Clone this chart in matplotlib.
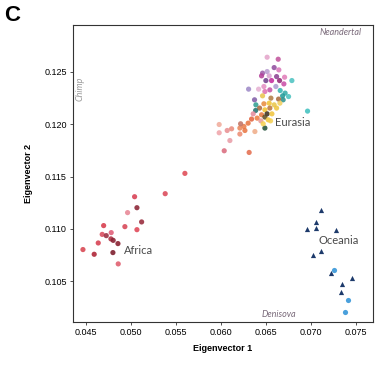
import matplotlib
matplotlib.use('Agg')
import matplotlib.pyplot as plt

# Eurasia samples (eigenvector 1, eigenvector 2, colour)
eur_x = [0.06514, 0.06637, 0.06592, 0.06644, 0.06463, 0.06514, 0.06452, 0.06537, 0.06619, 0.06708,
         0.06789, 0.06500, 0.06563, 0.06652, 0.06700, 0.06611, 0.06478, 0.06544, 0.06308, 0.06419,
         0.06489, 0.06659, 0.06714, 0.06686, 0.06752, 0.06692, 0.06463, 0.06556, 0.06641, 0.06374,
         0.06389, 0.06478, 0.06537, 0.06592, 0.06656, 0.06430, 0.06489, 0.06544, 0.06619, 0.06386,
         0.06963, 0.06359, 0.06452, 0.06514, 0.06567, 0.06403, 0.06341, 0.06489, 0.06526, 0.06444,
         0.06552, 0.06303, 0.06489, 0.06470, 0.06256, 0.06211, 0.06267, 0.06378, 0.06219, 0.06119,
         0.06070, 0.05981, 0.05981, 0.06211, 0.06100, 0.06037, 0.06314]
eur_y = [0.12640, 0.12621, 0.12541, 0.12519, 0.12488, 0.12503, 0.12462, 0.12462, 0.12455, 0.12449,
         0.12417, 0.12417, 0.12417, 0.12417, 0.12385, 0.12360, 0.12360, 0.12328, 0.12335, 0.12335,
         0.12312, 0.12322, 0.12297, 0.12271, 0.12264, 0.12233, 0.12271, 0.12249, 0.12240, 0.12233,
         0.12185, 0.12195, 0.12201, 0.12185, 0.12201, 0.12154, 0.12137, 0.12154, 0.12154, 0.12131,
         0.12125, 0.12099, 0.12090, 0.12099, 0.12099, 0.12058, 0.12049, 0.12068, 0.12042, 0.12032,
         0.12032, 0.12010, 0.11963, 0.12004, 0.11978, 0.11963, 0.11940, 0.11930, 0.12004, 0.11956,
         0.11940, 0.11997, 0.11918, 0.11906, 0.11844, 0.11746, 0.11730]
eur_col = ['#e3a3c9', '#c0509a', '#8e4a9c', '#d874b8', '#9b5aa8', '#b89ccf', '#b33c97', '#d7a0cf', '#8a3f8f', '#e07ab8',
           '#49c1c0', '#6e3c8a', '#c2279a', '#8e2374', '#c84aa5', '#a99cd0', '#e38dc1', '#c24fa5', '#9b86c6', '#e6b0d2',
           '#dd6eb0', '#2fb3b0', '#31a9a6', '#1f9a98', '#47c0bd', '#2a8f8c', '#e8c34a', '#b07a40', '#a6683a', '#7f5aa6',
           '#2d9c8f', '#e88a3a', '#f2c230', '#e9c548', '#f0cd5a', '#a8653a', '#f3c12c', '#b97438', '#eec33d', '#1c6f6a',
           '#3bbfbd', '#e48a9a', '#e7763a', '#3a2a1a', '#f0c43a', '#ed7a3d', '#e2603a', '#5c4a20', '#f2c63a', '#e69a9a',
           '#f4cf52', '#e8723c', '#1d4d35', '#f5d04e', '#e97a46', '#ea8455', '#e8733f', '#efab86', '#c07060', '#e98a7a',
           '#e88d8f', '#f0aa99', '#efa3a8', '#ec8a70', '#e89aa5', '#d9687a', '#e36a4a']

# Africa samples
afr_x = [0.05600, 0.05381, 0.05041, 0.05067, 0.04963, 0.05119, 0.04933, 0.05067, 0.04697, 0.04681,
         0.04726, 0.04781, 0.04778, 0.04803, 0.04856, 0.04637, 0.04467, 0.04592, 0.04800, 0.04859]
afr_y = [0.11530, 0.11336, 0.11307, 0.11202, 0.11155, 0.11066, 0.11021, 0.10992, 0.11031, 0.10947,
         0.10935, 0.10964, 0.10904, 0.10890, 0.10859, 0.10865, 0.10802, 0.10757, 0.10773, 0.10665]
afr_col = ['#e0505a', '#dc4e5d', '#d94457', '#8e2a3a', '#e88a98', '#9a3040', '#d84a5a', '#e04a5a', '#d84050', '#d95060',
           '#9c3345', '#e0607a', '#b03545', '#8a2436', '#8a2232', '#d84454', '#d94a55', '#b02838', '#7f2030', '#e06070']

# Oceania samples: triangles and circles
oce_tri_x = [0.07108, 0.07056, 0.06952, 0.07059, 0.07281, 0.07108, 0.07026, 0.07222, 0.07456, 0.07348, 0.07333]
oce_tri_y = [0.11183, 0.11062, 0.10999, 0.11009, 0.10992, 0.10789, 0.10751, 0.10579, 0.10534, 0.10474, 0.10394]
oce_dot_x = [0.07259, 0.07414, 0.07378]
oce_dot_y = [0.10611, 0.10322, 0.10203]

xticks = [0.045, 0.050, 0.055, 0.060, 0.065, 0.070, 0.075]
yticks = [0.105, 0.110, 0.115, 0.120, 0.125]

plt.rcParams['font.family'] = ['Liberation Sans', 'DejaVu Sans']

fig = plt.figure(figsize=(3.84, 3.66), dpi=100)
ax = fig.add_axes([0.190, 0.120, 0.781, 0.812])

ax.scatter(eur_x, eur_y, s=14, c=eur_col, alpha=0.85, linewidths=0)
ax.scatter(afr_x, afr_y, s=14, c=afr_col, alpha=0.9, linewidths=0)
ax.scatter(oce_tri_x, oce_tri_y, s=14, marker='^', c='#1d3a6b', linewidths=0)
ax.scatter(oce_dot_x, oce_dot_y, s=14, c='#4aa0dc', linewidths=0)

ax.set_xlim(0.04356, 0.07689)
ax.set_ylim(0.10109, 0.12949)
ax.set_xticks(xticks)
ax.set_yticks(yticks)
ax.set_xticklabels(['%.3f' % t for t in xticks])
ax.set_yticklabels(['%.3f' % t for t in yticks])
ax.tick_params(direction='out', length=2.5, width=0.6, labelsize=6.5, pad=2,
               top=False, right=False, color='#333333')
for sp in ax.spines.values():
    sp.set_linewidth(0.8)
    sp.set_color('#333333')

ax.set_xlabel('Eigenvector 1', fontsize=6.5, fontweight='bold', labelpad=5)
ax.set_ylabel('Eigenvector 2', fontsize=6.5, fontweight='bold', labelpad=8)

# group labels
ax.text(0.0660, 0.12016, 'Eurasia', fontsize=8, family='Lato', color='#4a4a4a', va='center', ha='left')
ax.text(0.0492, 0.1079, 'Africa', fontsize=8, family='Lato', color='#4a4a4a', va='center', ha='left')
ax.text(0.0709, 0.1089, 'Oceania', fontsize=8, family='Lato', color='#4a4a4a', va='center', ha='left')

# reference genomes
ax.text(0.963, 0.976, 'Neandertal', transform=ax.transAxes, fontsize=6.5, family='Lato',
        style='italic', color='#7a6a7a', ha='right', va='center')
ax.text(0.023, 0.785, 'Chimp', transform=ax.transAxes, fontsize=6.5, family='Lato',
        style='italic', color='#999999', ha='center', va='center', rotation=90)
ax.text(0.687, 0.024, 'Denisova', transform=ax.transAxes, fontsize=6.5, family='Lato',
        style='italic', color='#7a6a7a', ha='center', va='center')

fig.text(0.032, 0.958, 'C', fontsize=16, fontweight='bold', ha='center', va='center')

fig.savefig('out.png', dpi=100)
